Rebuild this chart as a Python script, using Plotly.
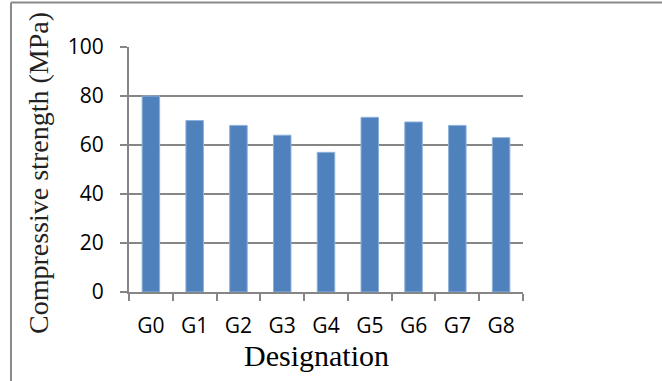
import plotly.graph_objects as go

categories = ["G0", "G1", "G2", "G3", "G4", "G5", "G6", "G7", "G8"]
strength = [80, 70, 68, 64, 57, 71.3, 69.4, 68, 63]
y_ticks = [0, 20, 40, 60, 80, 100]

W, H = 662, 381
L, R, T, B = 129, 139, 47, 89
pw, ph = W - L - R, H - T - B

def px_x(x):
    return (x - L) / pw

def px_y(y):
    return (H - B - y) / ph

fig = go.Figure(go.Bar(
    x=categories, y=strength,
    marker=dict(color="#4F81BD", line=dict(color="#8FB0DA", width=1)),
))

fig.update_layout(
    width=W, height=H,
    margin=dict(l=L, r=R, t=T, b=B),
    paper_bgcolor="white", plot_bgcolor="white",
    bargap=0.6,
    showlegend=False,
    font=dict(family="Open Sans, Arial, sans-serif", color="black"),
    xaxis=dict(
        showline=True, linecolor="#868686", linewidth=2,
        ticks="outside", tickson="boundaries", ticklen=7, tickwidth=2, tickcolor="#868686",
        tickfont=dict(size=21, family="Open Sans", color="black"),
        ticklabelstandoff=14,
        showgrid=False,
    ),
    yaxis=dict(
        range=[0, 100], tickvals=y_ticks,
        showline=True, linecolor="#868686", linewidth=2,
        ticks="outside", ticklen=7, tickwidth=2, tickcolor="#868686",
        showgrid=True, gridcolor="#868686", gridwidth=1.5,
        tickfont=dict(size=21, family="Open Sans", color="black"),
        ticklabelstandoff=12,
        zeroline=False,
    ),
    annotations=[
        dict(text="Compressive strength (MPa)", x=px_x(38), y=px_y(173),
             xref="paper", yref="paper", showarrow=False, textangle=-90,
             font=dict(family="Liberation Serif", size=28, color="#222"),
             xanchor="center", yanchor="middle"),
        dict(text="Designation", x=px_x(316), y=px_y(355),
             xref="paper", yref="paper", showarrow=False,
             font=dict(family="Liberation Serif", size=30, color="black"),
             xanchor="center", yanchor="middle"),
    ],
    shapes=[
        dict(type="line", xref="paper", yref="paper",
             x0=px_x(11), x1=px_x(11), y0=px_y(2.5), y1=px_y(H + 5),
             line=dict(color="#8a8a8a", width=2)),
        dict(type="line", xref="paper", yref="paper",
             x0=px_x(11), x1=px_x(W + 5), y0=px_y(2.5), y1=px_y(2.5),
             line=dict(color="#8a8a8a", width=2)),
    ],
)

fig.write_html(
    "out.html",
    config={"displayModeBar": False},
    post_script="document.body.style.margin='0';document.body.style.overflow='hidden';",
)
